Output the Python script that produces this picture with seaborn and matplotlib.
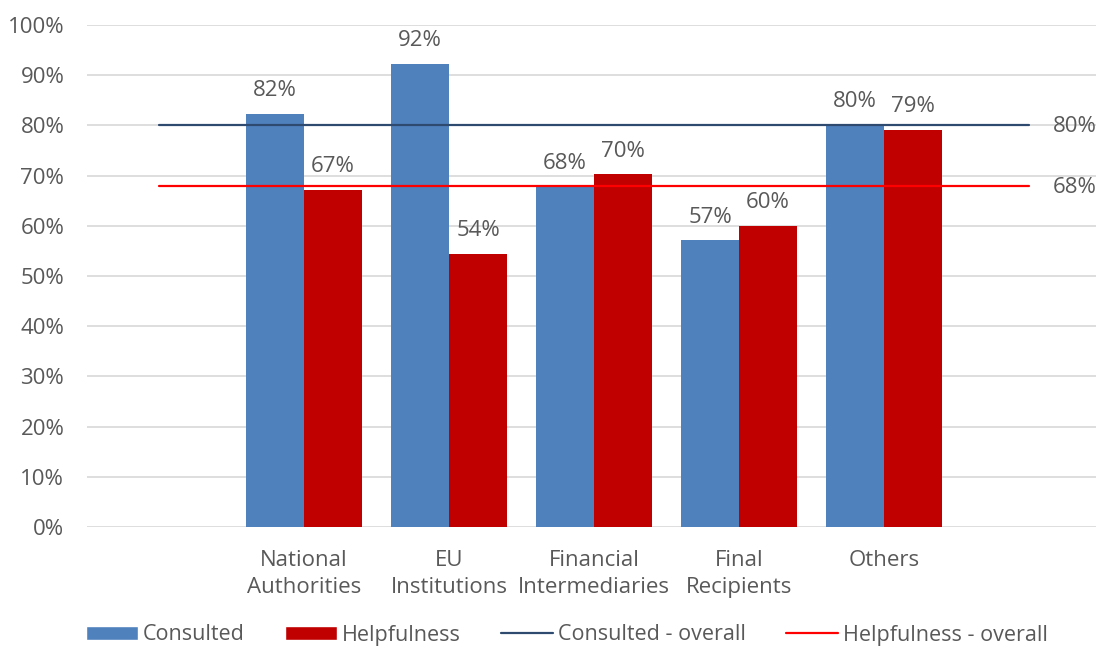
import numpy as np
import pandas as pd
import matplotlib
matplotlib.use("Agg")
import matplotlib.pyplot as plt
from matplotlib.patches import Patch
from matplotlib.lines import Line2D
import seaborn as sns

# Stakeholder groups (blank slots at both ends carry only the overall lines)
categories = ["National\nAuthorities", "EU\nInstitutions", "Financial\nIntermediaries",
              "Final\nRecipients", "Others"]
all_slots = [""] + categories + [" "]

consulted = [0.823, 0.923, 0.678, 0.571, 0.801]
helpfulness = [0.672, 0.544, 0.703, 0.600, 0.791]
consulted_overall = 0.80
helpfulness_overall = 0.68

series_names = ["Consulted", "Helpfulness"]
overall_names = ["Consulted - overall", "Helpfulness - overall"]
y_ticks = [0, 0.1, 0.2, 0.3, 0.4, 0.5, 0.6, 0.7, 0.8, 0.9, 1.0]

BLUE = "#4F81BD"
RED = "#C00000"
NAVY = "#2E4A6E"
BRIGHT_RED = "#FF0000"
TEXT = "#595959"
GRID = "#DEDEDE"
FS = 16

sns.set_theme(style="white")
plt.rcParams["font.family"] = ["Open Sans", "DejaVu Sans"]

df = pd.DataFrame({
    "category": categories * 2,
    "value": consulted + helpfulness,
    "series": [series_names[0]] * len(categories) + [series_names[1]] * len(categories),
})

fig = plt.figure(figsize=(10.96, 6.5), dpi=100)
ax = fig.add_axes([86.5 / 1096, 123 / 650, 1015 / 1096, 502 / 650])

sns.barplot(data=df, x="category", y="value", hue="series", order=all_slots,
            hue_order=series_names, palette=[BLUE, RED], width=0.8,
            saturation=1, ax=ax, legend=False, edgecolor="none")

for cont in ax.containers:
    ax.bar_label(cont, labels=[f"{v * 100:.0f}%" for v in cont.datavalues],
                 padding=9, color=TEXT, fontsize=FS)

xs = np.arange(len(all_slots))
ax.plot(xs, [consulted_overall] * len(xs), color=NAVY, lw=1.6, zorder=3)
ax.plot(xs, [helpfulness_overall] * len(xs), color=BRIGHT_RED, lw=1.6, zorder=3)
for val in (consulted_overall, helpfulness_overall):
    ax.annotate(f"{val * 100:.0f}%", xy=(xs[-1], val), xytext=(17, -1),
                textcoords="offset points", va="center", ha="left",
                color=TEXT, fontsize=FS, annotation_clip=False)

ax.set_xlim(-0.5, len(all_slots) - 0.5)
ax.set_ylim(0, 1.0)
ax.set_yticks(y_ticks)
ax.set_yticklabels([f"{t * 100:.0f}%" for t in y_ticks])
ax.yaxis.grid(True, color=GRID, lw=1.4)
ax.set_axisbelow(True)
for s in ax.spines.values():
    s.set_visible(False)
ax.tick_params(axis="y", length=0, pad=16, labelsize=FS, labelcolor=TEXT)
ax.tick_params(axis="x", length=0, pad=16.5, labelsize=FS, labelcolor=TEXT)
for lbl in ax.get_xticklabels():
    lbl.set_linespacing(1.4)
ax.set_xlabel("")
ax.set_ylabel("")

handles = [Patch(facecolor=BLUE), Patch(facecolor=RED),
           Line2D([], [], color=NAVY, lw=1.6), Line2D([], [], color=BRIGHT_RED, lw=1.6)]
fig.legend(handles, series_names + overall_names, loc="center left",
           bbox_to_anchor=(86 / 1096, 1 - 635 / 650), ncol=4, frameon=False,
           fontsize=15.5, labelcolor=TEXT, handlelength=2.42, handleheight=0.6,
           handletextpad=0.23, columnspacing=1.86, borderaxespad=0, borderpad=0)

fig.savefig("out.png", dpi=100)
